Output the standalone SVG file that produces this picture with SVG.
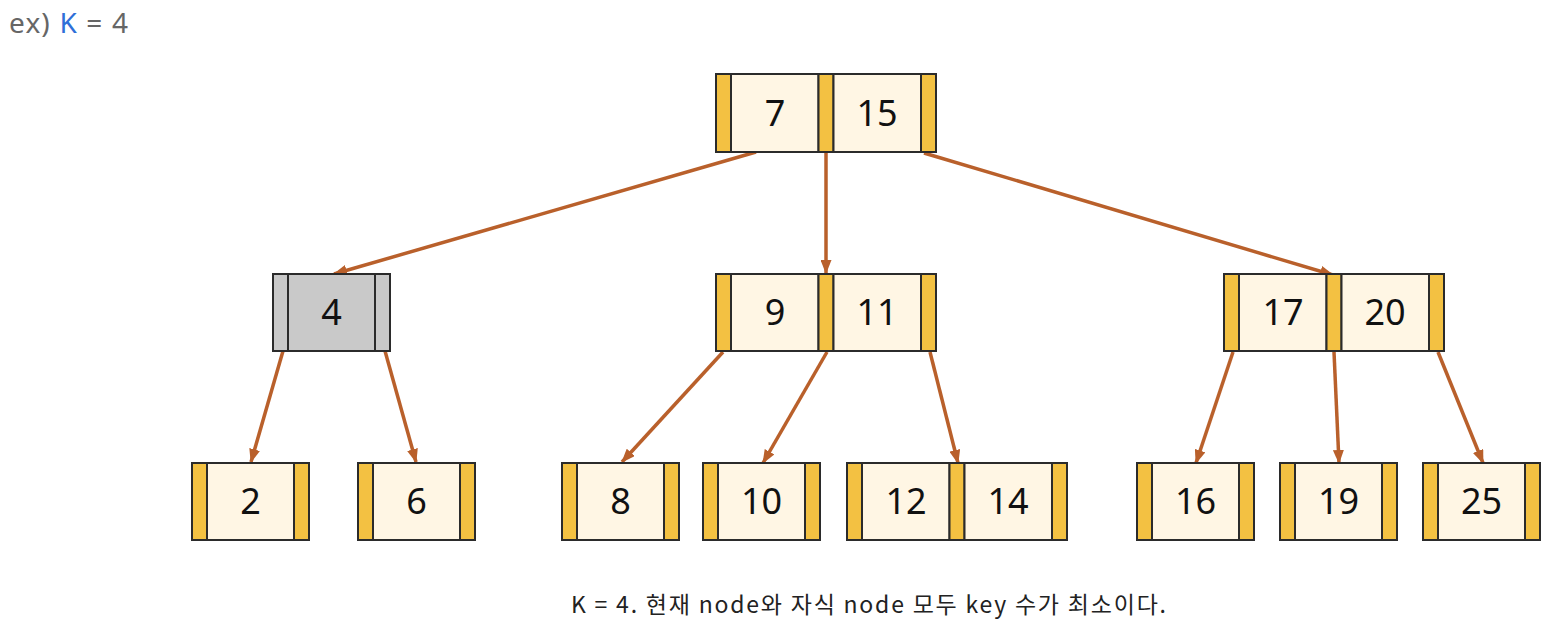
<svg xmlns="http://www.w3.org/2000/svg" width="1562" height="636" viewBox="0 0 1562 636">
  <defs>
    <style>
      .bar { fill: #F3C142; stroke: #2b2b2b; stroke-width: 2; }
      .key { fill: #FFF6E4; stroke: #2b2b2b; stroke-width: 2; }
      .gray { fill: #C9C9C9; stroke: #2b2b2b; stroke-width: 2; }
      .num { font-family: "Noto Sans", "Liberation Sans", sans-serif; font-size: 36px; fill: #111; text-anchor: middle; }
      .edge { stroke: #B9602B; stroke-width: 3.5; fill: none; marker-end: url(#arrow); }
      .head { font-family: "Noto Sans", "Liberation Sans", sans-serif; font-size: 28px; fill: #666; }
      .caption { font-family: "Noto Sans CJK KR", "Noto Sans", sans-serif; font-size: 23px; fill: #222; }
    </style>
    <marker id="arrow" viewBox="0 0 14 11" refX="13" refY="5.5" markerWidth="14" markerHeight="11" markerUnits="userSpaceOnUse" orient="auto">
      <path d="M0,0 L14,5.5 L0,11 z" fill="#B9602B"/>
    </marker>
  </defs>

  <rect width="1562" height="636" fill="#ffffff"/>

  <!-- heading -->
  <text class="head" x="9" y="33" textLength="119" lengthAdjust="spacing">ex) <tspan fill="#2F6FD8">K</tspan> = 4</text>

  <!-- connectors -->
  <g id="connectors">
    <line class="edge" x1="756" y1="152" x2="334" y2="274"/>
    <line class="edge" x1="826" y1="152" x2="826" y2="273"/>
    <line class="edge" x1="924" y1="153" x2="1333" y2="275"/>
    <line class="edge" x1="283" y1="351" x2="251" y2="462"/>
    <line class="edge" x1="385" y1="351" x2="416" y2="462"/>
    <line class="edge" x1="723" y1="352" x2="622" y2="462"/>
    <line class="edge" x1="827" y1="352" x2="763" y2="463"/>
    <line class="edge" x1="930" y1="352" x2="958" y2="463"/>
    <line class="edge" x1="1233" y1="352" x2="1196" y2="463"/>
    <line class="edge" x1="1334" y1="352" x2="1339" y2="463"/>
    <line class="edge" x1="1438" y1="352" x2="1483" y2="463"/>
  </g>

  <!-- root -->
  <g id="node-7-15">
    <rect class="bar" x="716" y="74" width="15" height="78"/>
    <rect class="key" x="731" y="74" width="87.5" height="78"/>
    <rect class="bar" x="818.5" y="74" width="15" height="78"/>
    <rect class="key" x="833.5" y="74" width="87.5" height="78"/>
    <rect class="bar" x="921" y="74" width="15" height="78"/>
    <text class="num" x="775" y="126">7</text>
    <text class="num" x="877" y="126">15</text>
  </g>

  <!-- middle level -->
  <g id="node-4">
    <rect class="gray" x="273" y="274" width="15" height="77"/>
    <rect class="gray" x="288" y="274" width="87" height="77"/>
    <rect class="gray" x="375" y="274" width="15" height="77"/>
    <text class="num" x="331.5" y="325">4</text>
  </g>

  <g id="node-9-11">
    <rect class="bar" x="716" y="274" width="15" height="77"/>
    <rect class="key" x="731" y="274" width="87.5" height="77"/>
    <rect class="bar" x="818.5" y="274" width="15" height="77"/>
    <rect class="key" x="833.5" y="274" width="87.5" height="77"/>
    <rect class="bar" x="921" y="274" width="15" height="77"/>
    <text class="num" x="775" y="325">9</text>
    <text class="num" x="877" y="325">11</text>
  </g>

  <g id="node-17-20">
    <rect class="bar" x="1224" y="274" width="15" height="77"/>
    <rect class="key" x="1239" y="274" width="87.5" height="77"/>
    <rect class="bar" x="1326.5" y="274" width="15" height="77"/>
    <rect class="key" x="1341.5" y="274" width="87.5" height="77"/>
    <rect class="bar" x="1429" y="274" width="15" height="77"/>
    <text class="num" x="1283" y="325">17</text>
    <text class="num" x="1385" y="325">20</text>
  </g>

  <!-- leaves -->
  <g id="node-2">
    <rect class="bar" x="192" y="463" width="15" height="77"/>
    <rect class="key" x="207" y="463" width="87" height="77"/>
    <rect class="bar" x="294" y="463" width="15" height="77"/>
    <text class="num" x="250.5" y="514">2</text>
  </g>

  <g id="node-6">
    <rect class="bar" x="358" y="463" width="15" height="77"/>
    <rect class="key" x="373" y="463" width="87" height="77"/>
    <rect class="bar" x="460" y="463" width="15" height="77"/>
    <text class="num" x="416.5" y="514">6</text>
  </g>

  <g id="node-8">
    <rect class="bar" x="562" y="463" width="15" height="77"/>
    <rect class="key" x="577" y="463" width="87" height="77"/>
    <rect class="bar" x="664" y="463" width="15" height="77"/>
    <text class="num" x="620.5" y="514">8</text>
  </g>

  <g id="node-10">
    <rect class="bar" x="703" y="463" width="15" height="77"/>
    <rect class="key" x="718" y="463" width="87" height="77"/>
    <rect class="bar" x="805" y="463" width="15" height="77"/>
    <text class="num" x="761.5" y="514">10</text>
  </g>

  <g id="node-12-14">
    <rect class="bar" x="847" y="463" width="15" height="77"/>
    <rect class="key" x="862" y="463" width="87.5" height="77"/>
    <rect class="bar" x="949.5" y="463" width="15" height="77"/>
    <rect class="key" x="964.5" y="463" width="87.5" height="77"/>
    <rect class="bar" x="1052" y="463" width="15" height="77"/>
    <text class="num" x="906" y="514">12</text>
    <text class="num" x="1008" y="514">14</text>
  </g>

  <g id="node-16">
    <rect class="bar" x="1137" y="463" width="15" height="77"/>
    <rect class="key" x="1152" y="463" width="87" height="77"/>
    <rect class="bar" x="1239" y="463" width="15" height="77"/>
    <text class="num" x="1195.5" y="514">16</text>
  </g>

  <g id="node-19">
    <rect class="bar" x="1280" y="463" width="15" height="77"/>
    <rect class="key" x="1295" y="463" width="87" height="77"/>
    <rect class="bar" x="1382" y="463" width="15" height="77"/>
    <text class="num" x="1338.5" y="514">19</text>
  </g>

  <g id="node-25">
    <rect class="bar" x="1423" y="463" width="15" height="77"/>
    <rect class="key" x="1438" y="463" width="87" height="77"/>
    <rect class="bar" x="1525" y="463" width="15" height="77"/>
    <text class="num" x="1481.5" y="514">25</text>
  </g>

  <!-- caption -->
  <text class="caption" x="571" y="613" textLength="595" lengthAdjust="spacing">K = 4. 현재 node와 자식 node 모두 key 수가 최소이다.</text>
</svg>
